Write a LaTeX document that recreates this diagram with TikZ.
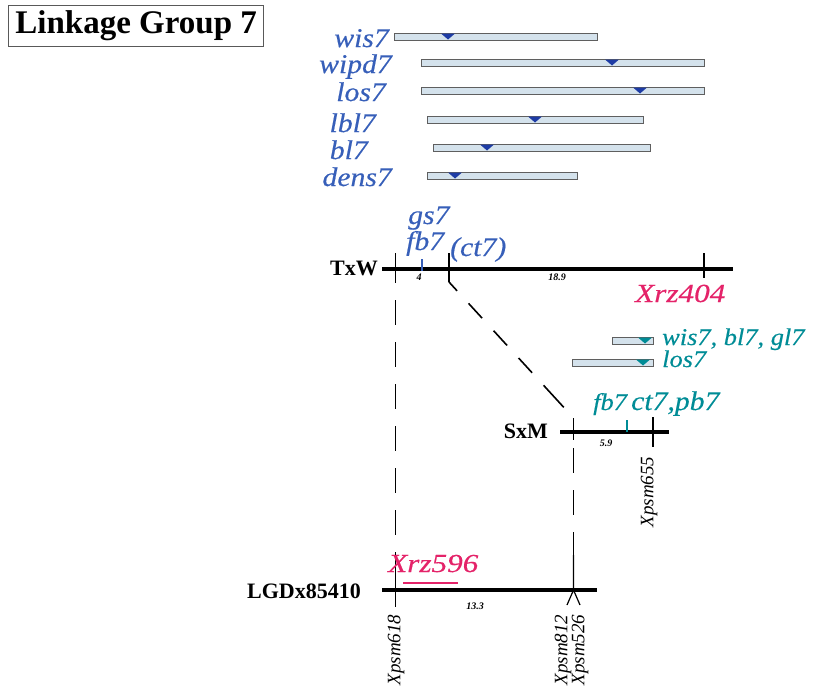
\documentclass[tikz,border=0pt]{standalone}
\usepackage{fontspec}
\setmainfont{Liberation Serif}
\newfontfamily\labf[FakeStretch=1.1,FakeBold=0.4]{Liberation Serif}
\newfontfamily\labr[FakeStretch=1.2,FakeBold=0.4]{Liberation Serif}
\definecolor{lblue}{RGB}{55,95,185}
\definecolor{tblue}{RGB}{30,60,165}
\definecolor{lteal}{RGB}{0,140,150}
\definecolor{lred}{RGB}{228,35,105}
\definecolor{barfill}{RGB}{212,226,236}
\definecolor{barline}{RGB}{95,95,95}
\newcommand\trimark[3]{\fill[#3] (#1-7,#2) -- (#1+7,#2) -- (#1,#2+6) -- cycle;}
\begin{document}
\begin{tikzpicture}[x=1pt,y=-1pt,
  bartube/.style={draw=barline, fill=barfill, line width=0.9},
  glab/.style={inner sep=0, font=\labf\itshape\fontsize{27}{30}\selectfont},
  bluelab/.style={glab, text=lblue},
  teallab/.style={inner sep=0, text=lteal, font=\labf\itshape\fontsize{24}{26}\selectfont},
  redlab/.style={inner sep=0, text=lred, font=\labr\itshape\fontsize{26}{28}\selectfont},
  mapname/.style={inner sep=0, font=\bfseries\fontsize{22}{24}\selectfont},
  chrom/.style={line width=3.6},
  tickline/.style={line width=1.2},
  linkdash/.style={line width=1.6, dash pattern=on 25 off 17},
  dist/.style={inner sep=0, font=\bfseries\itshape\fontsize{10}{11}\selectfont},
  xpsm/.style={inner sep=0, rotate=90, font=\itshape\fontsize{19}{20}\selectfont}
]
\useasboundingbox (0,0) rectangle (818,688);
% title
\node[draw=gray!70!black, line width=1.3, inner sep=0, minimum width=255, minimum height=41, anchor=north west] (title) at (8,5) {\fontsize{33}{36}\selectfont\bfseries Linkage Group 7};

% QTL bars TxW
\draw[bartube] (394,33.5) rectangle (597,40.5);
\trimark{448}{33.5}{tblue}
\node[bluelab, anchor=base east] (lwis) at (389,47) {wis7};
\draw[bartube] (421,59.5) rectangle (704,66.5);
\trimark{612}{59.5}{tblue}
\node[bluelab, anchor=base east] (lwipd) at (392,73) {wipd7};
\draw[bartube] (421,87.5) rectangle (704,94.5);
\trimark{640}{87.5}{tblue}
\node[bluelab, anchor=base east] (llos) at (386,101) {los7};
\draw[bartube] (427,116.5) rectangle (643,123.5);
\trimark{535}{116.5}{tblue}
\node[bluelab, anchor=base east] (llbl) at (376,132) {lbl7};
\draw[bartube] (433,144.5) rectangle (650,151.5);
\trimark{487}{144.5}{tblue}
\node[bluelab, anchor=base east] (lbl) at (368,159) {bl7};
\draw[bartube] (427,172.5) rectangle (577,179.5);
\trimark{455}{172.5}{tblue}
\node[bluelab, anchor=base east] (ldens) at (392,186) {dens7};

% TxW map
\node[mapname, anchor=base east] (txw) at (378,275) {TxW};
\coordinate (txwL) at (382,269);
\coordinate (txwR) at (733,269);
\draw[chrom] (txwL) -- (txwR);
\coordinate (t1a) at (395.5,253); \coordinate (t1b) at (395.5,283);
\draw[tickline] (t1a) -- (t1b);
\coordinate (t2a) at (422,259); \coordinate (t2b) at (422,271);
\draw[tickline, lblue] (t2a) -- (t2b);
\coordinate (t3a) at (449,253); \coordinate (t3b) at (449,282);
\draw[tickline] (t3a) -- (t3b);
\coordinate (t4a) at (704,253); \coordinate (t4b) at (704,278);
\draw[tickline] (t4a) -- (t4b);
\node[dist] (d4) at (419,277) {4};
\node[dist] (d189) at (557,277) {18.9};
\node[bluelab, anchor=base west] (lgs) at (408,224) {gs7};
\node[bluelab, anchor=base west] (lfb) at (406,250) {fb7};
\node[bluelab, anchor=base west] (lct) at (450,256) {(ct7)};
\node[redlab, anchor=base west] (lxrz404) at (635,302) {Xrz404};

% SxM QTL bars
\draw[bartube] (612,337.5) rectangle (653,344.5);
\trimark{645}{337.5}{lteal}
\node[teallab, anchor=base west] (lswis) at (662,345) {wis7, bl7, gl7};
\draw[bartube] (572,359.5) rectangle (653,366.5);
\trimark{643}{359.5}{lteal}
\node[teallab, anchor=base west] (lslos) at (662,367) {los7};

% SxM map
\node[mapname, anchor=base east] (sxm) at (548,438) {SxM};
\coordinate (sxmL) at (560,432);
\coordinate (sxmR) at (669,432);
\draw[chrom] (sxmL) -- (sxmR);
\coordinate (s1a) at (573.5,418); \coordinate (s1b) at (573.5,440);
\draw[tickline] (s1a) -- (s1b);
\coordinate (s2a) at (627,420); \coordinate (s2b) at (627,432);
\draw[tickline, lteal] (s2a) -- (s2b);
\coordinate (s3a) at (653,417); \coordinate (s3b) at (653,447);
\draw[tickline] (s3a) -- (s3b);
\node[dist] (d59) at (606,443) {5.9};
\node[teallab, anchor=base west] (lsfb) at (593,410) {fb7};
\node[teallab, anchor=base west, font=\labf\itshape\fontsize{27}{29}\selectfont] (lsct) at (631,410) {ct7,pb7};
\node[xpsm] (x655) at (649,492) {Xpsm655};

% LGD map
\node[mapname, anchor=base east] (lgd) at (361,598) {LGDx85410};
\coordinate (lgdL) at (382,590);
\coordinate (lgdR) at (597,590);
\draw[chrom] (lgdL) -- (lgdR);
\coordinate (g1a) at (395.5,555); \coordinate (g1b) at (395.5,607);
\draw[tickline] (g1a) -- (g1b);
\coordinate (g2a) at (573.5,555); \coordinate (g2b) at (573.5,590);
\coordinate (g2l) at (567,605); \coordinate (g2r) at (580,605);
\draw[tickline] (g2a) -- (g2b) -- (g2l) (g2b) -- (g2r);
\draw[lred, line width=2.2] (403,583) -- (458,583);
\node[redlab, anchor=base west] (lxrz596) at (388,572) {Xrz596};
\node[dist] (d133) at (475,606) {13.3};
\node[xpsm] (x618) at (396,650) {Xpsm618};
\node[xpsm] (x812) at (563,650) {Xpsm812};
\node[xpsm] (x526) at (580,650) {Xpsm526};

% connectors
\draw[linkdash, dash phase=25] (t1b) -- (g1a);
\draw[linkdash, dash pattern=on 12 off 17 on 20 off 17 on 20 off 17 on 20 off 17 on 18 off 0] (t3b) -- (s1a);
\draw[linkdash, dash phase=34] (s1b) -- (g2a);
\end{tikzpicture}
\end{document}
